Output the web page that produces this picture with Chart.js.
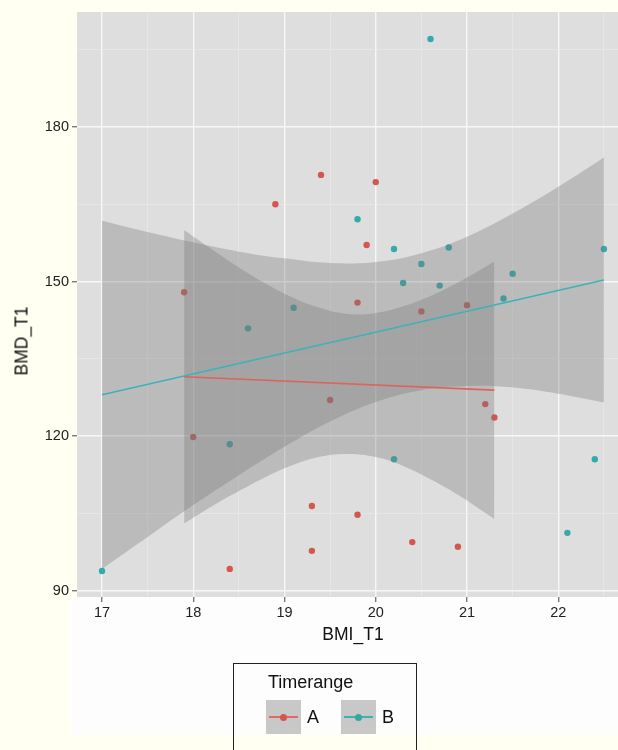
<!DOCTYPE html>
<html><head><meta charset="utf-8">
<script src="https://cdn.jsdelivr.net/npm/chart.js@4.4.0/dist/chart.umd.min.js"></script>
<style>
html,body{margin:0;padding:0;background:#fffff2;width:618px;height:750px;overflow:hidden;font-family:"Liberation Sans",Arial,sans-serif;}
#wbox{position:absolute;left:71px;top:597px;width:547px;height:138px;background:#fdfdfd;}
#wrap{position:absolute;left:0;top:0;width:618px;height:750px;overflow:hidden;}
#ytitle{position:absolute;left:22px;top:341px;transform:translate(-50%,-50%) rotate(-90deg);font-size:17.5px;color:#111;white-space:nowrap;}
#legend{position:absolute;left:233px;top:663px;width:184px;height:100px;border:1.5px solid #222;box-sizing:border-box;}
#legend .title{position:absolute;left:34px;top:8px;font-size:18px;color:#111;}
#legend .key{position:absolute;top:36px;width:35px;height:34px;background:#c8c8c8;}
#legend .key .ln{position:absolute;left:3px;right:3px;top:16px;height:2px;}
#legend .key .dt{position:absolute;left:14px;top:14px;width:7px;height:7px;border-radius:50%;}
#legend .lab{position:absolute;top:43px;font-size:18px;color:#111;}
</style>
</head><body>
<div id="wbox"></div>
<div id="wrap"><canvas id="c" width="633" height="750"></canvas></div>
<div id="ytitle">BMD_T1</div>
<div id="legend">
  <div class="title">Timerange</div>
  <div class="key" style="left:32px"><div class="ln" style="background:#de6a63"></div><div class="dt" style="background:#d65550"></div></div>
  <div class="lab" style="left:73px">A</div>
  <div class="key" style="left:107px"><div class="ln" style="background:#3fb0b4"></div><div class="dt" style="background:#35a6a2"></div></div>
  <div class="lab" style="left:148px">B</div>
</div>
<script>
// ---- data ----
const categories = ['A', 'B'];

const A_X = [17.9, 18.0, 18.4, 18.9, 19.3, 19.3, 19.4, 19.5, 19.8, 19.8, 19.9, 20.0, 20.4, 20.5, 20.9, 21.0, 21.2, 21.3];
const A_Y = [147.9, 119.8, 94.2, 165.0, 106.4, 97.7, 170.7, 127.0, 145.9, 104.7, 157.1, 169.3, 99.4, 144.2, 98.5, 145.4, 126.2, 123.6];

const B_X = [17.0, 18.4, 18.6, 19.1, 19.8, 20.2, 20.2, 20.3, 20.5, 20.6, 20.7, 20.8, 21.4, 21.5, 22.1, 22.4, 22.5];
const B_Y = [93.8, 118.4, 140.9, 144.9, 162.1, 156.3, 115.5, 149.7, 153.4, 197.1, 149.2, 156.6, 146.7, 151.5, 101.2, 115.5, 156.3];

// fitted lines (end points)
const LINE_A_X = [17.9, 21.3];
const LINE_A_Y = [131.5, 128.9];
const LINE_B_X = [17.0, 22.5];
const LINE_B_Y = [128.0, 150.3];

// confidence bands (read at several x positions)
const BAND_A_X  = [17.9, 18.2, 18.5, 18.8, 19.1, 19.4, 19.7, 20.0, 20.3, 20.6, 20.9, 21.3];
const BAND_A_LO = [103.0, 106.3, 109.3, 112.1, 114.4, 116.0, 116.5, 115.9, 114.2, 111.6, 108.6, 103.9];
const BAND_A_HI = [160.0, 156.3, 152.7, 149.5, 146.8, 144.8, 143.7, 143.9, 145.2, 147.2, 149.8, 153.9];

const BAND_B_X  = [17.0, 17.5, 18.0, 18.5, 19.0, 19.5, 20.0, 20.5, 21.0, 21.5, 22.0, 22.5];
const BAND_B_LO = [94.2, 100.4, 106.6, 112.4, 117.9, 122.8, 126.6, 128.9, 129.7, 129.4, 128.2, 126.5];
const BAND_B_HI = [161.8, 159.6, 157.6, 155.8, 154.5, 153.6, 153.8, 155.5, 158.7, 163.2, 168.4, 174.1];

const X_TICKS = [17, 17.5, 18, 18.5, 19, 19.5, 20, 20.5, 21, 21.5, 22, 22.5];
const Y_TICKS = [90, 105, 120, 135, 150, 165, 180, 195];
const X_LABELS = {17:'17', 18:'18', 19:'19', 20:'20', 21:'21', 22:'22'};
const Y_LABELS = {90:'90', 120:'120', 150:'150', 180:'180'};

// ---- build ----
const pts = (xs, ys) => xs.map((x, i) => ({x: x, y: ys[i]}));
const COL = {A: '#d65550', B: '#35a9ad'};
const LINECOL = {A: '#dc645d', B: '#3db2b8'};
const BANDCOL = 'rgba(120,120,120,0.34)';

const panelBg = {
  id: 'panelBg',
  beforeDraw(chart) {
    const {ctx, chartArea: a} = chart;
    ctx.save();
    ctx.fillStyle = '#dedede';
    ctx.fillRect(a.left, a.top, a.right - a.left, a.bottom - a.top);
    ctx.restore();
  }
};

const bandSets = (xs, lo, hi) => ([
  {type: 'line', data: pts(xs, lo), showLine: true, borderWidth: 0, borderColor: 'rgba(0,0,0,0)', pointRadius: 0, tension: 0.4, fill: false, order: 5},
  {type: 'line', data: pts(xs, hi), showLine: true, borderWidth: 0, borderColor: 'rgba(0,0,0,0)', pointRadius: 0, tension: 0.4, fill: '-1', backgroundColor: BANDCOL, order: 5}
]);

const datasets = [
  {label: categories[0], data: pts(A_X, A_Y), backgroundColor: COL.A, pointRadius: 3.2, pointBorderWidth: 0, order: 10},
  {label: categories[1], data: pts(B_X, B_Y), backgroundColor: COL.B, pointRadius: 3.2, pointBorderWidth: 0, order: 10},
  ...bandSets(BAND_A_X, BAND_A_LO, BAND_A_HI),
  ...bandSets(BAND_B_X, BAND_B_LO, BAND_B_HI),
  {type: 'line', data: pts(LINE_A_X, LINE_A_Y), showLine: true, borderColor: LINECOL.A, borderWidth: 1.6, pointRadius: 0, fill: false, order: 0},
  {type: 'line', data: pts(LINE_B_X, LINE_B_Y), showLine: true, borderColor: LINECOL.B, borderWidth: 1.6, pointRadius: 0, fill: false, order: 0}
];

const isMajX = v => Math.abs(v - Math.round(v)) < 1e-6;
const isMajY = v => Math.abs(v % 30) < 1e-6;

new Chart(document.getElementById('c'), {
  type: 'scatter',
  data: {datasets},
  plugins: [panelBg],
  options: {
    responsive: false,
    animation: false,
    events: [],
    layout: {padding: {left: 0, right: 0, top: 12, bottom: 0}},
    plugins: {legend: {display: false}, tooltip: {enabled: false}},
    scales: {
      x: {
        type: 'linear', min: 16.726, max: 22.775,
        afterBuildTicks: s => { s.ticks = X_TICKS.map(v => ({value: v})); },
        afterFit: s => { s.height = 153; s.paddingLeft = 0; s.paddingRight = 0; },
        border: {display: false},
        grid: {
          color: c => isMajX(c.tick.value) ? '#f7f7f7' : '#e9e9e9',
          lineWidth: c => isMajX(c.tick.value) ? 1.4 : 0.7,
          tickColor: c => isMajX(c.tick.value) ? '#7a7a7a' : 'rgba(0,0,0,0)',
          tickLength: 5, drawTicks: true
        },
        ticks: {
          autoSkip: false, maxRotation: 0, padding: 2, color: '#222',
          font: {family: '"Liberation Sans", Arial, sans-serif', size: 14.5},
          callback: v => X_LABELS[v] || ''
        },
        title: {display: true, text: 'BMI_T1', color: '#111',
          font: {family: '"Liberation Sans", Arial, sans-serif', size: 17.5},
          padding: {top: 0, bottom: 104}}
      },
      y: {
        type: 'linear', min: 88.74, max: 202.33,
        afterBuildTicks: s => { s.ticks = Y_TICKS.map(v => ({value: v})); },
        afterFit: s => { s.width = 77; s.paddingTop = 0; s.paddingBottom = 0; },
        border: {display: false},
        grid: {
          color: c => isMajY(c.tick.value) ? '#f7f7f7' : '#e9e9e9',
          lineWidth: c => isMajY(c.tick.value) ? 1.4 : 0.7,
          tickColor: c => isMajY(c.tick.value) ? '#7a7a7a' : 'rgba(0,0,0,0)',
          tickLength: 5, drawTicks: true
        },
        ticks: {
          autoSkip: false, padding: 3, color: '#222',
          font: {family: '"Liberation Sans", Arial, sans-serif', size: 14.5},
          callback: v => Y_LABELS[v] || ''
        },
        title: {display: false}
      }
    }
  }
});
</script>
</body></html>
